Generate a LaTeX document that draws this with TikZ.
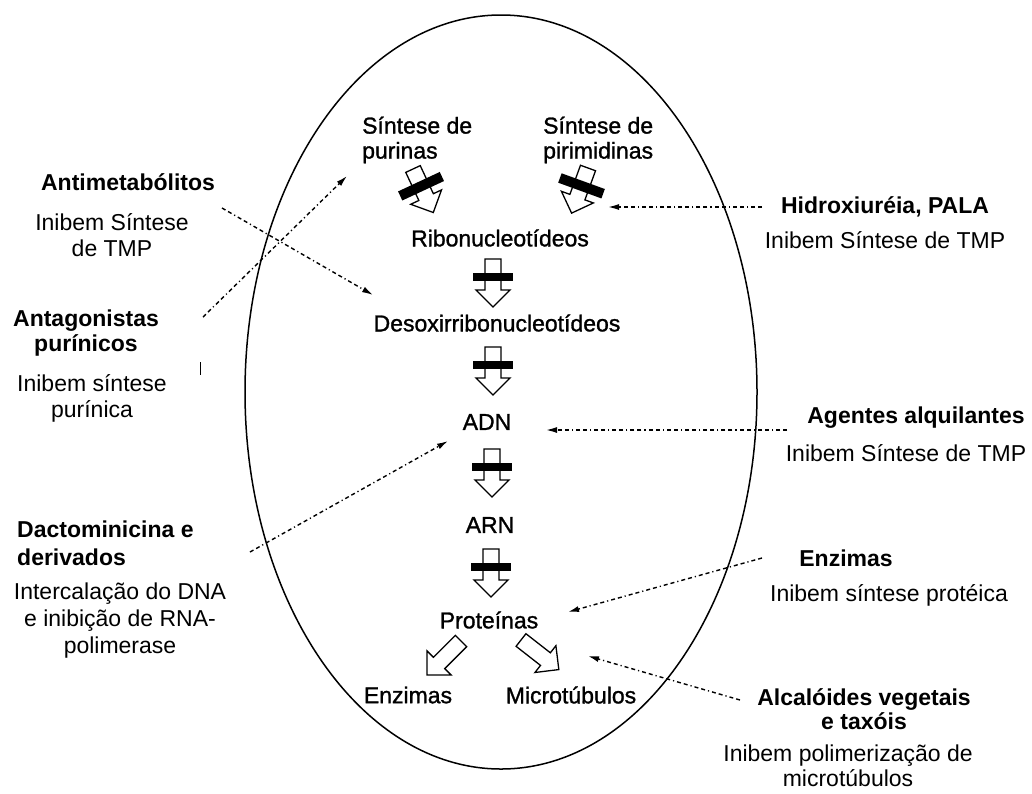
\documentclass[tikz,border=0pt]{standalone}
\usepackage{fontspec}
\setmainfont{Liberation Sans}
\newfontface\innerfont[FakeBold=1.2]{Liberation Sans}
\usetikzlibrary{arrows.meta}
\newcommand\hollowshape{\draw[arrowline] (-8,0) -- (8,0) -- (8,31) -- (17,31) -- (0,48) -- (-17,31) -- (-8,31) -- cycle;}
\begin{document}
\begin{tikzpicture}[x=1pt,y=-1pt,
  reg/.style={font=\fontsize{23}{26}\selectfont, inner sep=0pt, align=center},
  inner/.style={font=\fontsize{23}{25}\selectfont\innerfont, inner sep=0pt},
  boldlab/.style={font=\fontsize{23}{25}\selectfont\bfseries, inner sep=0pt, align=center},
  arrowline/.style={draw=black, line width=1.3pt, fill=white, line join=miter},
  inhib/.style={line width=1.4pt, dash pattern=on 4pt off 3pt on 4pt off 3pt on 1.2pt off 3pt,
     -{Latex[length=11pt,width=6pt]}},
  hollowarrow/.pic={\hollowshape},
  barredarrow/.pic={\hollowshape \fill (-20,14) rectangle (20,22);},
  crossedarrow/.pic={\hollowshape \fill (-23,14) rectangle (23,24);}
]
\useasboundingbox (0,0) rectangle (1032,793);
\fill[white] (0,0) rectangle (1032,793);

% cell
\draw[line width=1.5pt] (501,392) ellipse [x radius=256, y radius=377];

% inner texts
\node[inner, align=left, anchor=west] (pur) at (362,140) {Síntese de\\purinas};
\node[inner, align=left, anchor=west] (pir) at (543,140) {Síntese de\\pirimidinas};
\node[inner] (ribo) at (500,238) {Ribonucleotídeos};
\node[inner] (desoxi) at (497,323) {Desoxirribonucleotídeos};
\node[inner] (adn) at (487,422) {ADN};
\node[inner] (arn) at (490,525) {ARN};
\node[inner] (prot) at (489,620) {Proteínas};
\node[inner] (enzin) at (408,695) {Enzimas};
\node[inner] (micro) at (571,695) {Microtúbulos};

% block arrows
\pic[rotate=25] at (413,169) {crossedarrow};
\pic[rotate=-20] at (588,168) {crossedarrow};
\pic at (493,259) {barredarrow};
\pic at (493,347) {barredarrow};
\pic at (492,449) {barredarrow};
\pic at (491,549) {barredarrow};
\pic[rotate=-45] at (461,641) {hollowarrow};
\pic[rotate=52] at (521,640) {hollowarrow};

% outer labels
\node[boldlab] (antim) at (128,182) {Antimetabólitos};
\node[reg] (antimtxt) at (112,235) {Inibem Síntese\\de TMP};
\node[boldlab] (antag) at (86,333) {Antagonistas\\purínicos};
\draw[line width=0.8pt] (200,362) -- (200,375);
\node[reg] (antagtxt) at (92,398) {Inibem síntese\\purínica};
\node[boldlab, align=left, anchor=west, font=\fontsize{23}{28}\selectfont\bfseries] (dact) at (17,543) {Dactominicina e\\derivados};
\node[reg, font=\fontsize{23}{27}\selectfont] (dacttxt) at (120,621) {Intercalação do DNA\\e inibição de RNA-\\polimerase};
\node[boldlab] (hidro) at (885,207) {Hidroxiuréia, PALA};
\node[reg] (hidrotxt) at (885,240) {Inibem Síntese de TMP};
\node[boldlab] (alq) at (916,418) {Agentes alquilantes};
\node[reg] (alqtxt) at (906,453) {Inibem Síntese de TMP};
\node[boldlab] (enzout) at (846,558) {Enzimas};
\node[reg] (enztxt) at (889,595) {Inibem síntese protéica};
\node[boldlab, font=\fontsize{23}{24}\selectfont\bfseries] (alc) at (864,709) {Alcalóides vegetais\\e taxóis};
\node[reg, font=\fontsize{23}{25}\selectfont] (alctxt) at (848,766) {Inibem polimerização de\\microtúbulos};

% connector ends
\coordinate (s1) at (222,208);  \coordinate (t1) at (373,295);
\coordinate (s2) at (203,317);  \coordinate (t2) at (347,176);
\coordinate (s3) at (762,207);  \coordinate (t3) at (608,207);
\coordinate (s4) at (787,430);  \coordinate (t4) at (546,430);
\coordinate (s5) at (250,552);  \coordinate (t5) at (448,441);
\coordinate (s6) at (762,558);  \coordinate (t6) at (568,612);
\coordinate (s7) at (740,700);  \coordinate (t7) at (588,656);

\draw[inhib] (s1) -- (t1);
\draw[inhib] (s2) -- (t2);
\draw[inhib] (s3) -- (t3);
\draw[inhib] (s4) -- (t4);
\draw[inhib] (s5) -- (t5);
\draw[inhib] (s6) -- (t6);
\draw[inhib] (s7) -- (t7);
\end{tikzpicture}
\end{document}
